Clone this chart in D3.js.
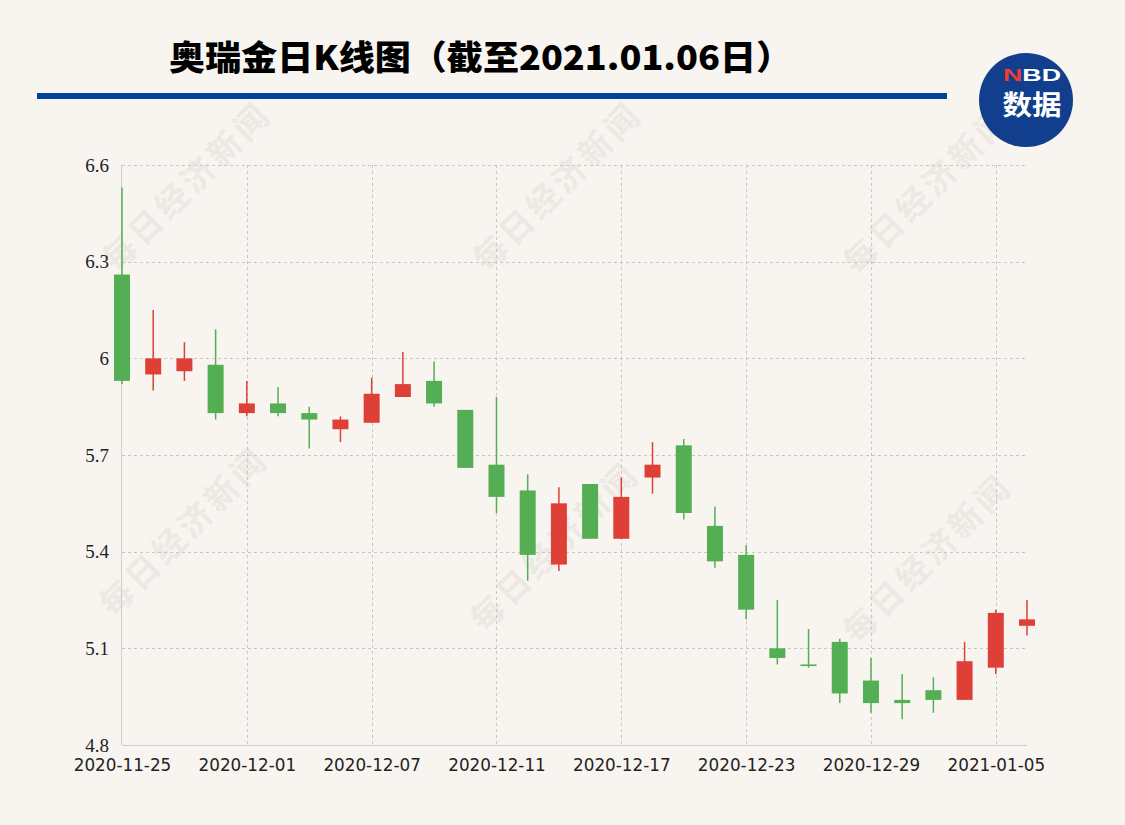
<!DOCTYPE html>
<html><head><meta charset="utf-8">
<script src="https://cdn.jsdelivr.net/npm/d3@7"></script>
<style>html,body{margin:0;padding:0;background:#f8f5f0;}svg{display:block;}</style>
</head><body>
<svg id="chart" width="1125" height="825"></svg>
<script>
const dates = ["2020-11-25","2020-11-26","2020-11-27","2020-11-30","2020-12-01","2020-12-02","2020-12-03","2020-12-04",
"2020-12-07","2020-12-08","2020-12-09","2020-12-10","2020-12-11","2020-12-14","2020-12-15","2020-12-16","2020-12-17","2020-12-18",
"2020-12-21","2020-12-22","2020-12-23","2020-12-24","2020-12-25","2020-12-28","2020-12-29","2020-12-30","2020-12-31",
"2021-01-04","2021-01-05","2021-01-06"];
const open  = [6.26,5.95,5.96,5.98,5.83,5.86,5.83,5.78,5.80,5.88,5.93,5.84,5.67,5.59,5.36,5.61,5.44,5.63,5.73,5.48,5.39,5.10,5.05,5.12,5.00,4.94,4.97,4.94,5.04,5.17];
const close = [5.93,6.00,6.00,5.83,5.86,5.83,5.81,5.81,5.89,5.92,5.86,5.66,5.57,5.39,5.55,5.44,5.57,5.67,5.52,5.37,5.22,5.07,5.045,4.96,4.93,4.93,4.94,5.06,5.21,5.19];
const high  = [6.53,6.15,6.05,6.09,5.93,5.91,5.85,5.82,5.94,6.02,5.99,5.84,5.88,5.64,5.60,5.61,5.63,5.74,5.75,5.54,5.42,5.25,5.16,5.13,5.07,5.02,5.01,5.12,5.22,5.25];
const low   = [5.92,5.90,5.93,5.81,5.82,5.82,5.72,5.74,5.80,5.88,5.85,5.66,5.52,5.31,5.34,5.44,5.44,5.58,5.50,5.35,5.19,5.05,5.04,4.93,4.90,4.88,4.90,4.94,5.02,5.14];
const yTicks = [4.8,5.1,5.4,5.7,6.0,6.3,6.6];
const yTickLabels = ["4.8","5.1","5.4","5.7","6","6.3","6.6"];
const xTickLabels = ["2020-11-25","2020-12-01","2020-12-07","2020-12-11","2020-12-17","2020-12-23","2020-12-29","2021-01-05"];
const title = "奥瑞金日K线图（截至2021.01.06日）";
const watermark = "每日经济新闻";

(function () {
const svg = d3.select("#chart");
const W = 1125, H = 825;
const pL = 122, pR = 1027, pT = 165, pB = 745;
const RED = "#de3f36", GREEN = "#54ae54", GRID = "#c9c7c3";

svg.append("rect").attr("width", W).attr("height", H).attr("fill", "#f8f5f0");

// watermarks
const wmPos = [[185,185],[556,185],[926,188],[182,530],[553,545],[926,557]];
svg.append("g").selectAll("text").data(wmPos).join("text")
  .attr("transform", d => `translate(${d[0]},${d[1]}) rotate(-45)`)
  .attr("text-anchor", "middle").attr("dominant-baseline", "central")
  .attr("font-family", "'Noto Sans CJK SC', sans-serif").attr("font-weight", 700)
  .attr("font-size", 33).attr("letter-spacing", 4)
  .attr("fill", "#ece9e4").text(watermark);

// title
svg.append("text").attr("x", 169).attr("y", 55).attr("dominant-baseline", "central")
  .attr("font-family", "'Noto Sans CJK SC', sans-serif").attr("font-weight", 900)
  .attr("font-size", 34).attr("fill", "#000")
  .attr("textLength", 623).attr("lengthAdjust", "spacingAndGlyphs").text(title);
svg.append("rect").attr("x", 37).attr("y", 93).attr("width", 910).attr("height", 6).attr("fill", "#00449a");

// logo
const logo = svg.append("g");
logo.append("circle").attr("cx", 1026).attr("cy", 100).attr("r", 47).attr("fill", "#113f8e");
const nbd = logo.append("text").attr("x", 1032).attr("y", 74.5).attr("text-anchor", "middle").attr("dominant-baseline", "central")
  .attr("font-family", "'Liberation Sans', Arial, sans-serif").attr("font-weight", 700).attr("font-size", 17)
  .attr("textLength", 58).attr("lengthAdjust", "spacingAndGlyphs");
nbd.append("tspan").attr("fill", "#ee3b33").text("N");
nbd.append("tspan").attr("fill", "#fff").text("BD");
logo.append("text").attr("x", 1032).attr("y", 103).attr("text-anchor", "middle").attr("dominant-baseline", "central")
  .attr("font-family", "'Noto Sans CJK SC', sans-serif").attr("font-weight", 700).attr("font-size", 27)
  .attr("fill", "#fff").attr("textLength", 59).attr("lengthAdjust", "spacingAndGlyphs").text("数据");

// scales
const x = d3.scalePoint().domain(dates).range([pL, pR]);
const y = d3.scaleLinear().domain([4.8, 6.6]).range([pB, pT]);

// grid
const g = svg.append("g");
g.selectAll(".hg").data(yTicks.filter(v => v !== 4.8)).join("line")
  .attr("x1", pL).attr("x2", pR).attr("y1", d => Math.round(y(d)) + 0.5).attr("y2", d => Math.round(y(d)) + 0.5)
  .attr("stroke", GRID).attr("stroke-width", 1).attr("stroke-dasharray", "3,3");
g.selectAll(".vg").data(xTickLabels.slice(1)).join("line")
  .attr("x1", d => Math.round(x(d)) + 0.5).attr("x2", d => Math.round(x(d)) + 0.5).attr("y1", pT).attr("y2", pB)
  .attr("stroke", GRID).attr("stroke-width", 1).attr("stroke-dasharray", "3,3");

// axes
const xAxis = d3.axisBottom(x).tickValues(xTickLabels).tickSize(0).tickPadding(14);
const xg = svg.append("g").attr("transform", `translate(0,${pB})`).call(xAxis);
xg.select(".domain").attr("stroke", "#cfcdc9").attr("d", `M${pL},0.5H${pR}`);
xg.selectAll("text").attr("font-family", "'DejaVu Sans', Tahoma, sans-serif").attr("font-size", 16.8).attr("fill", "#222");

const yAxis = d3.axisLeft(y).tickValues(yTicks).tickFormat((d, i) => yTickLabels[i]).tickSize(0).tickPadding(13);
const yg = svg.append("g").attr("transform", `translate(${pL},0)`).call(yAxis);
yg.select(".domain").attr("stroke", "#cfcdc9").attr("d", `M-0.5,${pT}V${pB}`);
yg.selectAll("text").attr("font-family", "'Liberation Serif', 'Times New Roman', serif").attr("font-size", 19).attr("fill", "#222");

// candles
const idx = d3.range(dates.length);
const bw = 16;
const cg = svg.append("g");
const col = i => close[i] >= open[i] ? RED : GREEN;
cg.selectAll(".wick").data(idx).join("line")
  .attr("x1", i => x(dates[i])).attr("x2", i => x(dates[i]))
  .attr("y1", i => y(high[i])).attr("y2", i => y(low[i]))
  .attr("stroke", col).attr("stroke-width", 1.5);
cg.selectAll(".body").data(idx).join("rect")
  .attr("x", i => x(dates[i]) - bw / 2).attr("width", bw)
  .attr("y", i => y(Math.max(open[i], close[i])))
  .attr("height", i => Math.max(1.5, Math.abs(y(open[i]) - y(close[i]))))
  .attr("fill", col);
})();
</script>
</body></html>
